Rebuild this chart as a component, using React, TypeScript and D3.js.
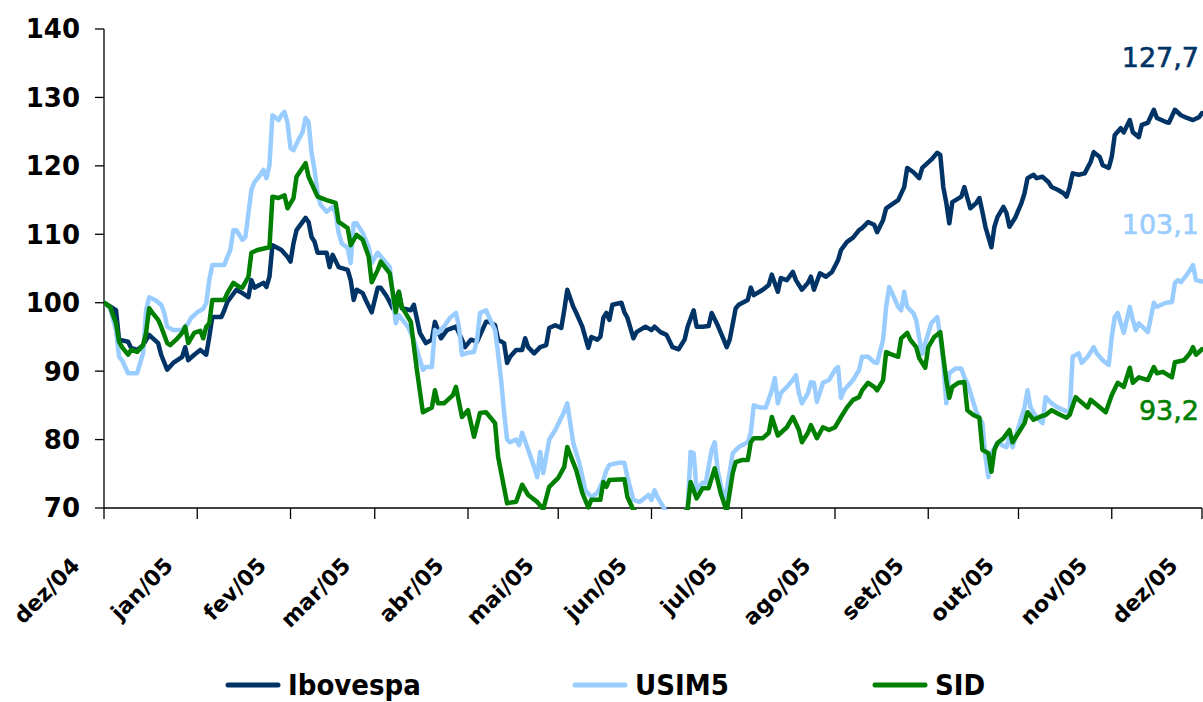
import * as d3 from 'd3';

// index base 100 em 01/12/2004 -> [dias desde o início, valor]
const startDate = new Date(2004, 11, 1);
const endDate = new Date(2005, 11, 1);

const ibovespa: [number, number][] = [
  [0, 100], [4, 98.9], [5, 94.6], [8, 94.3], [9, 93.4], [11, 93.1], [13, 93.8], [15, 95.3], [18, 94.1], [19, 92.4],
  [21, 90.2], [23, 91.2], [26, 92.1], [27, 93.5], [28, 91.6], [30, 92.4], [32, 93.1], [34, 92.4], [35, 95.0], [36, 97.9],
  [39, 97.9], [40, 98.9], [41, 100.1], [44, 101.9], [46, 101.4], [48, 100.8], [49, 103.3], [50, 102.2], [53, 102.9], [54, 102.3],
  [55, 103.8], [56, 108.4], [59, 107.7], [61, 106.7], [62, 106.0], [63, 108.7], [64, 110.6], [67, 112.4], [68, 111.8], [69, 109.6],
  [70, 108.9], [71, 107.3], [74, 107.3], [75, 105.2], [76, 107.0], [78, 105.2], [81, 104.8], [82, 103.3], [83, 100.4], [84, 101.9],
  [86, 101.4], [87, 100.4], [89, 98.6], [91, 102.2], [92, 102.2], [94, 100.9], [96, 99.2], [98, 101.6], [99, 99.2], [102, 98.9],
  [103, 99.7], [105, 95.6], [107, 94.1], [109, 94.6], [110, 97.2], [112, 94.8], [114, 96.0], [117, 96.5], [119, 94.6], [120, 93.5],
  [122, 94.6], [124, 94.3], [127, 97.2], [128, 97.2], [130, 96.7], [131, 94.6], [133, 94.1], [134, 91.2], [135, 92.1], [137, 93.1],
  [139, 93.1], [140, 94.8], [141, 93.5], [143, 92.6], [145, 93.5], [147, 93.8], [148, 96.3], [150, 96.7], [152, 96.3], [153, 98.9],
  [154, 101.9], [156, 99.4], [157, 98.5], [159, 96.5], [161, 93.4], [162, 95.0], [164, 94.6], [165, 95.0], [166, 97.8], [167, 98.5],
  [168, 97.5], [169, 99.7], [172, 100.0], [173, 98.6], [174, 97.8], [176, 94.8], [177, 95.7], [180, 96.5], [182, 96.0], [183, 96.5],
  [185, 95.7], [187, 95.3], [189, 93.5], [191, 93.2], [193, 94.6], [194, 96.5], [196, 98.9], [197, 96.5], [199, 96.5], [201, 96.6],
  [202, 98.5], [204, 96.7], [206, 94.6], [207, 93.5], [208, 94.6], [210, 99.2], [211, 99.7], [214, 100.4], [215, 102.2], [216, 101.1],
  [219, 101.9], [221, 102.6], [222, 104.1], [224, 101.6], [225, 103.6], [227, 103.3], [229, 104.5], [230, 103.3], [232, 101.9], [234, 102.9],
  [235, 103.8], [236, 101.9], [238, 104.3], [240, 103.8], [242, 104.5], [244, 106.2], [245, 107.7], [247, 108.9], [249, 109.5], [251, 110.6],
  [252, 110.9], [254, 111.8], [256, 111.4], [257, 110.3], [259, 112.1], [260, 113.8], [263, 114.7], [264, 115.0], [266, 116.9], [267, 119.7],
  [269, 119.1], [271, 118.2], [272, 119.7], [275, 120.9], [277, 121.9], [278, 121.6], [279, 116.9], [280, 114.6], [281, 111.6], [282, 114.7],
  [285, 115.5], [286, 116.9], [287, 115.3], [288, 113.8], [290, 114.6], [291, 115.3], [292, 113.3], [293, 111.1], [294, 109.6], [295, 108.1],
  [296, 111.1], [297, 112.5], [299, 114.0], [300, 113.1], [301, 111.1], [303, 112.5], [305, 114.6], [306, 116.0], [307, 118.2], [309, 118.7],
  [310, 118.2], [312, 118.4], [314, 117.6], [315, 116.9], [317, 116.5], [319, 116.0], [320, 115.5], [321, 116.9], [322, 118.9], [324, 118.7],
  [326, 118.9], [328, 120.6], [329, 122.0], [331, 121.3], [332, 120.1], [334, 119.7], [335, 121.3], [336, 124.5], [338, 125.5], [339, 124.9],
  [341, 126.7], [342, 124.9], [344, 124.2], [345, 126.0], [347, 126.3], [349, 128.2], [350, 127.0], [353, 126.4], [354, 126.3], [356, 128.2],
  [358, 127.4], [360, 127.0], [362, 126.7], [364, 127.1], [365, 127.7],
];

const usim5: [number, number][] = [
  [0, 100], [2, 99.2], [4, 96.0], [5, 92.1], [6, 91.6], [8, 89.7], [11, 89.7], [13, 92.6], [14, 98.9], [15, 100.8],
  [17, 100.4], [19, 99.7], [20, 98.6], [21, 96.5], [23, 96.0], [26, 96.0], [28, 97.0], [29, 97.8], [31, 98.6], [33, 99.1],
  [34, 100.0], [35, 103.3], [36, 105.5], [40, 105.5], [41, 106.7], [42, 107.7], [43, 110.6], [44, 110.6], [46, 109.2], [47, 109.6],
  [49, 116.5], [50, 117.6], [52, 118.7], [53, 119.4], [54, 118.2], [55, 120.1], [56, 127.4], [58, 126.7], [59, 127.4], [60, 127.9],
  [61, 126.3], [62, 122.6], [63, 122.3], [65, 124.1], [66, 124.9], [67, 127.0], [68, 126.4], [69, 121.9], [70, 119.4], [71, 116.0],
  [72, 114.3], [74, 113.3], [76, 114.0], [77, 113.1], [78, 110.2], [79, 108.7], [81, 108.0], [82, 105.8], [83, 111.6], [84, 111.6],
  [86, 110.2], [88, 108.1], [89, 105.8], [91, 107.3], [95, 105.2], [97, 97.0], [98, 98.2], [101, 96.5], [103, 94.6], [104, 93.1],
  [106, 90.2], [107, 90.6], [109, 90.6], [110, 96.0], [111, 95.6], [113, 96.5], [115, 97.8], [117, 98.5], [118, 96.5], [119, 92.4],
  [121, 92.7], [123, 92.8], [124, 94.6], [125, 98.5], [127, 98.9], [128, 97.9], [130, 96.0], [131, 92.6], [132, 88.7], [133, 84.0],
  [134, 80.0], [135, 79.6], [137, 80.0], [138, 79.2], [139, 81.0], [141, 78.5], [143, 76.0], [144, 74.5], [145, 78.2], [146, 75.1],
  [148, 80.0], [150, 81.4], [152, 83.2], [153, 84.1], [154, 85.3], [156, 79.5], [158, 76.6], [160, 72.6], [162, 71.6], [164, 72.2],
  [166, 74.1], [167, 75.5], [168, 76.3], [171, 76.6], [173, 76.6], [174, 74.5], [176, 71.2], [178, 70.9], [179, 71.2], [181, 71.9],
  [182, 71.2], [183, 72.6], [184, 71.6], [186, 70.1], [188, 68.5], [191, 68.0], [194, 69.8], [195, 78.2], [196, 78.0], [197, 72.6],
  [199, 73.7], [200, 73.6], [202, 78.5], [203, 79.6], [204, 75.5], [206, 71.2], [207, 72.6], [209, 78.0], [211, 78.9], [214, 79.6],
  [215, 81.0], [216, 85.0], [218, 84.7], [220, 84.7], [222, 87.2], [223, 89.0], [224, 85.3], [225, 86.8], [227, 87.7], [229, 88.7],
  [230, 89.4], [231, 86.8], [232, 85.3], [234, 86.8], [235, 88.4], [236, 88.3], [237, 85.5], [239, 88.3], [241, 88.7], [243, 90.2],
  [244, 90.6], [245, 86.1], [246, 87.2], [249, 88.7], [251, 90.2], [252, 92.1], [254, 92.1], [256, 91.3], [257, 91.2], [259, 94.6],
  [260, 99.4], [261, 102.3], [262, 101.4], [264, 99.4], [265, 98.9], [266, 101.6], [267, 99.4], [269, 98.5], [270, 97.5], [271, 94.8],
  [272, 92.5], [273, 94.1], [275, 97.0], [277, 97.9], [278, 95.0], [279, 91.2], [280, 85.3], [281, 89.7], [283, 90.4], [285, 90.4],
  [286, 89.1], [287, 88.3], [290, 84.0], [292, 82.4], [293, 77.5], [294, 74.5], [295, 78.0], [297, 79.5], [300, 78.9], [301, 80.4],
  [302, 78.9], [304, 81.8], [306, 84.7], [307, 87.2], [308, 84.7], [310, 83.2], [312, 82.4], [313, 86.2], [315, 85.3], [317, 84.7],
  [319, 84.3], [321, 83.9], [322, 92.1], [324, 92.6], [325, 91.2], [327, 92.1], [329, 93.5], [330, 92.6], [332, 91.6], [334, 90.9],
  [335, 95.0], [336, 97.9], [337, 98.5], [339, 95.6], [341, 99.4], [342, 97.5], [343, 96.0], [344, 97.0], [347, 95.7], [349, 100.0],
  [350, 99.4], [353, 100.0], [355, 100.1], [356, 102.9], [357, 103.3], [358, 103.0], [360, 104.1], [362, 105.5], [363, 103.3], [365, 103.1],
];

const sid: [number, number][] = [
  [0, 100], [2, 99.4], [4, 97.0], [5, 94.3], [6, 93.5], [8, 92.4], [9, 93.1], [11, 92.8], [13, 93.8], [14, 95.6],
  [15, 99.2], [16, 98.6], [18, 97.5], [19, 96.5], [21, 94.1], [22, 93.8], [24, 94.6], [26, 95.6], [27, 96.5], [28, 94.1],
  [30, 95.6], [32, 95.9], [33, 94.8], [34, 96.5], [35, 97.0], [36, 100.4], [40, 100.4], [41, 101.4], [43, 102.9], [45, 102.3],
  [46, 102.2], [48, 103.8], [49, 107.3], [51, 107.7], [55, 108.1], [56, 115.5], [58, 115.3], [60, 115.7], [61, 113.8], [63, 115.3],
  [64, 118.4], [67, 120.4], [68, 118.4], [71, 115.5], [74, 115.0], [77, 114.6], [78, 111.8], [81, 110.9], [82, 108.4], [84, 109.9],
  [86, 109.2], [88, 106.7], [89, 103.0], [91, 104.8], [92, 106.0], [95, 104.3], [97, 98.6], [98, 101.6], [99, 99.4], [102, 97.2],
  [104, 90.2], [106, 84.0], [109, 84.7], [110, 87.2], [111, 85.3], [113, 85.3], [116, 86.5], [117, 87.7], [119, 83.3], [121, 84.3],
  [123, 80.4], [125, 83.9], [127, 84.0], [130, 82.4], [131, 77.5], [134, 70.7], [137, 70.9], [139, 73.4], [141, 71.9], [144, 70.9],
  [146, 69.8], [148, 73.1], [151, 74.4], [153, 76.0], [154, 78.9], [157, 75.5], [159, 72.2], [161, 70.1], [162, 71.2], [165, 71.2],
  [166, 73.8], [167, 73.1], [168, 74.1], [173, 74.2], [174, 71.6], [176, 69.7], [180, 68.5], [185, 67.5], [190, 68.0], [194, 69.8],
  [195, 73.8], [197, 71.4], [199, 72.9], [201, 72.9], [203, 75.8], [205, 72.2], [207, 69.5], [209, 75.1], [210, 76.7], [212, 77.0],
  [214, 77.0], [215, 79.6], [216, 80.2], [219, 80.2], [221, 81.0], [222, 83.3], [224, 80.6], [227, 81.8], [229, 83.3], [231, 81.4],
  [232, 79.6], [234, 81.0], [235, 82.1], [237, 80.2], [239, 81.8], [241, 81.4], [243, 81.8], [245, 83.3], [247, 84.7], [249, 85.8],
  [251, 86.2], [252, 87.2], [254, 88.3], [256, 87.7], [257, 87.2], [259, 88.7], [260, 92.8], [262, 92.4], [264, 92.1], [265, 94.8],
  [267, 95.6], [268, 94.6], [270, 93.5], [271, 91.9], [273, 90.5], [274, 93.5], [276, 95.0], [278, 95.7], [279, 92.1], [280, 88.7],
  [281, 86.1], [282, 87.7], [284, 88.3], [286, 88.4], [287, 84.3], [289, 83.6], [291, 83.2], [292, 78.5], [294, 78.0], [295, 75.3],
  [296, 78.5], [297, 79.5], [299, 80.2], [301, 81.4], [302, 79.6], [304, 81.0], [306, 82.4], [307, 84.0], [309, 82.9], [311, 83.3],
  [313, 83.6], [315, 84.3], [318, 83.6], [320, 83.2], [321, 83.6], [323, 86.2], [324, 85.8], [327, 84.7], [328, 85.8], [330, 85.1],
  [333, 84.0], [335, 86.5], [337, 88.3], [339, 87.7], [341, 90.5], [342, 88.3], [344, 89.1], [347, 88.7], [349, 90.6], [350, 89.7],
  [352, 89.9], [355, 89.1], [356, 91.3], [359, 91.6], [361, 92.6], [362, 93.5], [363, 92.4], [365, 93.2],
];

const seriesNames = ['Ibovespa', 'USIM5', 'SID'];
const seriesColors = ['#003366', '#99CCFF', '#008000'];
const endLabels = ['127,7', '103,1', '93,2'];
const yTicks = [70, 80, 90, 100, 110, 120, 130, 140];
const monthNames = ['jan', 'fev', 'mar', 'abr', 'mai', 'jun', 'jul', 'ago', 'set', 'out', 'nov', 'dez'];

const W = 1203;
const H = 702;
const margin = { top: 29, right: 1, bottom: 194, left: 104 };

export default function App() {
  const x = d3
    .scaleTime()
    .domain([startDate, endDate])
    .range([margin.left, W - margin.right]);
  const y = d3
    .scaleLinear()
    .domain([70, 140])
    .range([H - margin.bottom, margin.top]);

  const line = d3
    .line<[number, number]>()
    .x((d) => x(d3.timeDay.offset(startDate, d[0])))
    .y((d) => y(d[1]));

  const months = d3.timeMonth.range(startDate, d3.timeDay.offset(endDate, 1));
  const allSeries = [ibovespa, usim5, sid];
  const endLabelY = [67, 234, 420];
  const legendX = [228, 575, 875];
  const y0 = y(70);

  return (
    <svg
      width={W}
      height={H}
      style={{ position: 'absolute', left: 0, top: 0, background: '#fff' }}
      fontFamily="'DejaVu Sans', sans-serif"
    >
      <defs>
        <clipPath id="plot">
          <rect x={margin.left} y={margin.top - 6} width={W - margin.left} height={y0 - margin.top + 8} />
        </clipPath>
      </defs>

      {/* y axis */}
      <line x1={margin.left} x2={margin.left} y1={y(140)} y2={y0} stroke="#000" strokeWidth={1.3} />
      {yTicks.map((t) => (
        <g key={t}>
          <line x1={margin.left - 9} x2={margin.left} y1={y(t)} y2={y(t)} stroke="#000" strokeWidth={1.3} />
          <text x={80} y={y(t)} dy="0.36em" textAnchor="end" fontSize={26} fontWeight="bold" fill="#000">
            {t}
          </text>
        </g>
      ))}

      {/* x axis */}
      <line x1={margin.left} x2={W - margin.right} y1={y0} y2={y0} stroke="#000" strokeWidth={1.3} />
      {months.map((m) => {
        const tx = x(m);
        const label = `${monthNames[m.getMonth()]}/${String(m.getFullYear()).slice(2)}`;
        return (
          <g key={label}>
            <line x1={tx} x2={tx} y1={y0} y2={y0 + 11} stroke="#000" strokeWidth={1.3} />
            <text
              transform={`translate(${tx - 23},${y0 + 59}) rotate(-45)`}
              textAnchor="end"
              fontSize={22}
              fontWeight="bold"
              fill="#000"
            >
              {label}
            </text>
          </g>
        );
      })}

      {/* series */}
      <g clipPath="url(#plot)">
        {allSeries.map((s, i) => (
          <path
            key={seriesNames[i]}
            d={line(s) || ''}
            fill="none"
            stroke={seriesColors[i]}
            strokeWidth={4.5}
            strokeLinejoin="round"
            strokeLinecap="round"
          />
        ))}
      </g>

      {/* end labels */}
      {endLabels.map((l, i) => (
        <text
          key={l}
          x={1199}
          y={endLabelY[i]}
          textAnchor="end"
          fontSize={27}
          fill={seriesColors[i]}
          stroke={seriesColors[i]}
          strokeWidth={0.6}
        >
          {l}
        </text>
      ))}

      {/* legend */}
      {seriesNames.map((n, i) => (
        <g key={n}>
          <line
            x1={legendX[i]}
            x2={legendX[i] + 50}
            y1={685}
            y2={685}
            stroke={seriesColors[i]}
            strokeWidth={5}
            strokeLinecap="round"
          />
          <text
            x={legendX[i] + 60}
            y={695}
            fontSize={29}
            fontWeight="bold"
            fontFamily="'DejaVu Sans Condensed', 'DejaVu Sans', sans-serif"
            style={{ fontStretch: 'condensed' }}
            fill="#000"
          >
            {n}
          </text>
        </g>
      ))}
    </svg>
  );
}
